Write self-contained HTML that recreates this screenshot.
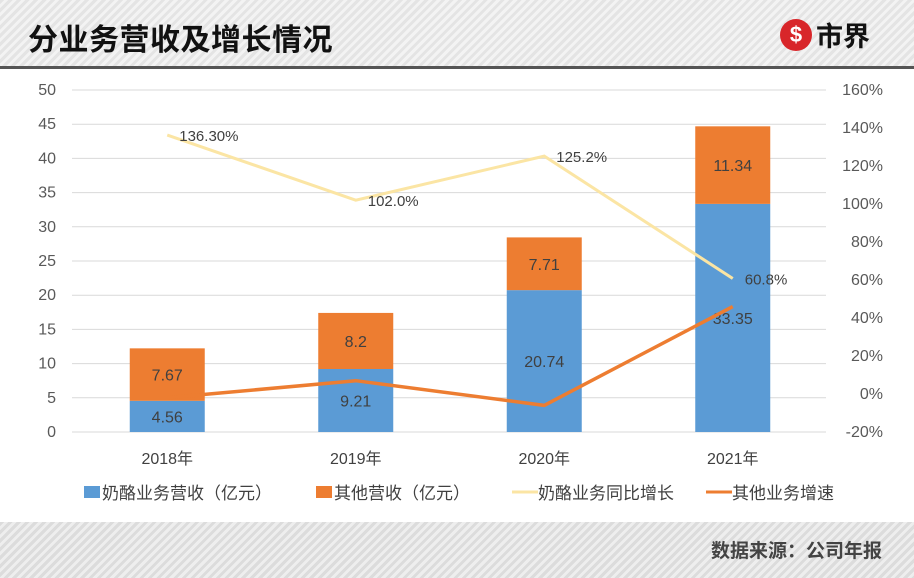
<!DOCTYPE html>
<html><head><meta charset="utf-8"><style>
body{margin:0;width:914px;height:578px;overflow:hidden;background:#fff;font-family:"Liberation Sans","Noto Sans CJK SC",sans-serif}
.hdr{position:absolute;left:0;top:0;width:914px;height:66px;background:repeating-linear-gradient(135deg,#e4e4e4 0 3px,#f3f3f3 3px 6px);border-bottom:3px solid #555}
.ftr{position:absolute;left:0;top:522px;width:914px;height:56px;background:repeating-linear-gradient(135deg,#dcdcdc 0 3px,#eeeeee 3px 6px)}
</style></head><body>
<div class="hdr">
<div style="position:absolute;left:28px;top:17px;font-size:30px;font-weight:bold;color:#111;font-family:'Noto Sans CJK SC',sans-serif;line-height:40px;letter-spacing:0.5px">分业务营收及增长情况</div>
<div style="position:absolute;left:780px;top:17px;height:36px">
<div style="position:absolute;left:0;top:2px;width:32px;height:32px;border-radius:50%;background:#d8262a;color:#fff;font-weight:bold;text-align:center;line-height:32px;font-size:22px">$</div>
<div style="position:absolute;left:36px;top:0;font-size:27px;font-weight:bold;color:#111;font-family:'Noto Sans CJK SC',sans-serif;line-height:36px;white-space:nowrap">市界</div></div>
</div>
<svg id="c" width="914" height="578" style="position:absolute;left:0;top:0"></svg>
<div class="ftr">
<div style="position:absolute;right:32px;top:14px;font-size:19px;font-weight:bold;color:#444;font-family:'Noto Sans CJK SC',sans-serif">数据来源：公司年报</div></div>
<script>
const categories=["2018年","2019年","2020年","2021年"];
const cheeseRev=[4.56,9.21,20.74,33.35];
const otherRev=[7.67,8.2,7.71,11.34];
const cheeseGrowth=[136.3,102.0,125.2,60.8];
const cheeseGrowthLabels=["136.30%","102.0%","125.2%","60.8%"];
const otherGrowth=[-2,7,-6,46];
const leftTicks=[0,5,10,15,20,25,30,35,40,45,50];
const rightTicks=[-20,0,20,40,60,80,100,120,140,160];
const NS="http://www.w3.org/2000/svg",svg=document.getElementById('c');
const X0=72,X1=826,Y0=432,Y1=90;
const yL=v=>Y0-(v/50)*(Y0-Y1);
const yR=v=>Y0-((v+20)/180)*(Y0-Y1);
const bw=(X1-X0)/categories.length;
const xC=i=>X0+bw*(i+0.5)+1;
function el(t,a,txt){const e=document.createElementNS(NS,t);for(const k in a)e.setAttribute(k,a[k]);if(txt!==undefined)e.textContent=txt;svg.appendChild(e);return e;}
leftTicks.forEach(t=>{
 const g=el('line',{x1:X0,x2:X1,y1:yL(t),y2:yL(t),stroke:'#d9d9d9','stroke-width':1});
 
 const l=el('text',{x:56,y:yL(t)+5,'text-anchor':'end','font-size':16,fill:'#595959'},t);
 
});
rightTicks.forEach(t=>{
 const l=el('text',{x:883,y:yR(t)+5,'text-anchor':'end','font-size':16,fill:'#595959'},t+'%');
 
});
categories.forEach((c,i)=>{
 const x=xC(i),w=75;
 const b=el('rect',{x:x-w/2,y:yL(cheeseRev[i]),width:w,height:Y0-yL(cheeseRev[i]),fill:'#5b9bd5'});
 
 const o=el('rect',{x:x-w/2,y:yL(cheeseRev[i]+otherRev[i]),width:w,height:yL(cheeseRev[i])-yL(cheeseRev[i]+otherRev[i]),fill:'#ed7d31'});
 
 const t1=el('text',{x:x,y:(yL(0)+yL(cheeseRev[i]))/2+6,'text-anchor':'middle','font-size':16,fill:'#404040'},cheeseRev[i]);
 
 const t2=el('text',{x:x,y:(yL(cheeseRev[i])+yL(cheeseRev[i]+otherRev[i]))/2+6,'text-anchor':'middle','font-size':16,fill:'#404040'},otherRev[i]);
 
 const xl=el('text',{x:x,y:464,'text-anchor':'middle','font-size':16,fill:'#404040'},c);
 
});
const p1=el('polyline',{points:cheeseGrowth.map((v,i)=>xC(i)+','+yR(v)).join(' '),fill:'none',stroke:'#fbe5a4','stroke-width':3});

const p2=el('polyline',{points:otherGrowth.map((v,i)=>xC(i)+','+yR(v)).join(' '),fill:'none',stroke:'#ed7d31','stroke-width':3.5});

cheeseGrowth.forEach((v,i)=>{
 const t=el('text',{x:xC(i)+12,y:yR(v)+6,'font-size':15,fill:'#404040'},cheeseGrowthLabels[i]);
 
});
const leg=[["rect","#5b9bd5","奶酪业务营收（亿元）",84],["rect","#ed7d31","其他营收（亿元）",316],["line","#fbe5a4","奶酪业务同比增长",512],["line","#ed7d31","其他业务增速",706]];
leg.forEach(L=>{
 if(L[0]=='rect'){const r=el('rect',{x:L[3],y:486,width:16,height:12,fill:L[1]});}
 else{const r=el('line',{x1:L[3],x2:L[3]+26,y1:492,y2:492,stroke:L[1],'stroke-width':3});}
 const t=el('text',{x:L[3]+(L[0]=='rect'?18:26),y:499,'font-size':17,fill:'#404040'},L[2]);
 
});
</script>
</body></html>
